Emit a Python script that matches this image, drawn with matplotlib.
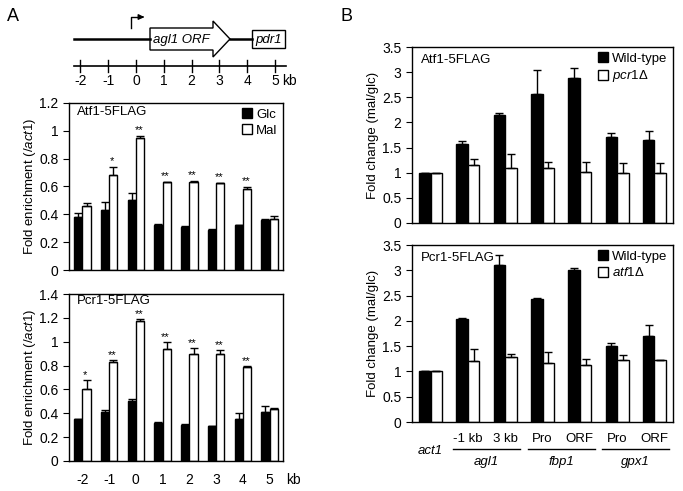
import numpy as np
import matplotlib
matplotlib.use('Agg')
import matplotlib.pyplot as plt
from matplotlib.patches import Polygon, Rectangle

plt.rcParams['font.family'] = ['Liberation Sans', 'DejaVu Sans']
plt.rcParams['mathtext.fontset'] = 'custom'
plt.rcParams['mathtext.rm'] = 'Liberation Sans'
plt.rcParams['mathtext.it'] = 'Liberation Sans:italic'
plt.rcParams['font.size'] = 9

# --- data, panel A ---
kb_pos = [-2, -1, 0, 1, 2, 3, 4, 5]
atf1_glc = [0.38, 0.43, 0.50, 0.32, 0.31, 0.29, 0.32, 0.36]
atf1_glc_err = [0.03, 0.06, 0.05, 0.01, 0.005, 0.005, 0.005, 0.01]
atf1_mal = [0.46, 0.68, 0.95, 0.63, 0.635, 0.625, 0.58, 0.37]
atf1_mal_err = [0.02, 0.06, 0.015, 0.005, 0.008, 0.003, 0.02, 0.015]
atf1_stars = ['', '*', '**', '**', '**', '**', '**', '']

pcr1_glc = [0.35, 0.41, 0.50, 0.32, 0.30, 0.29, 0.35, 0.41]
pcr1_glc_err = [0.005, 0.015, 0.02, 0.01, 0.01, 0.005, 0.05, 0.05]
pcr1_mal = [0.60, 0.83, 1.17, 0.94, 0.90, 0.90, 0.79, 0.44]
pcr1_mal_err = [0.08, 0.02, 0.02, 0.06, 0.05, 0.03, 0.005, 0.005]
pcr1_stars = ['*', '**', '**', '**', '**', '**', '**', '']

# --- data, panel B ---
b_top_labels = ['', '-1 kb', '3 kb', 'Pro', 'ORF', 'Pro', 'ORF']
b_genes = ['agl1', 'fbp1', 'gpx1']
atf1_wt = [1.0, 1.58, 2.15, 2.57, 2.88, 1.72, 1.66]
atf1_wt_err = [0, 0.06, 0.03, 0.47, 0.20, 0.06, 0.17]
atf1_mut = [1.0, 1.15, 1.10, 1.10, 1.02, 1.0, 1.0]
atf1_mut_err = [0, 0.13, 0.27, 0.12, 0.20, 0.20, 0.20]
pcr1_wt = [1.0, 2.03, 3.10, 2.43, 3.01, 1.51, 1.70]
pcr1_wt_err = [0, 0.03, 0.20, 0.03, 0.04, 0.05, 0.21]
pcr1_mut = [1.0, 1.20, 1.29, 1.17, 1.13, 1.22, 1.23]
pcr1_mut_err = [0, 0.25, 0.05, 0.21, 0.12, 0.10, 0]

W, H = 683, 491
fig = plt.figure(figsize=(W / 100, H / 100), dpi=100)


def px_axes(l, t, r, b):
    return fig.add_axes([l / W, 1 - b / H, (r - l) / W, (b - t) / H])


def bar_pair(ax, a, a_err, b, b_err, width, la, lb):
    x = np.arange(len(a))
    ekw = dict(ecolor='black', elinewidth=1, capsize=3, capthick=1)
    ax.bar(x - width / 2, a, width, color='black', edgecolor='black', lw=1,
           yerr=[np.zeros(len(a)), a_err], error_kw=ekw, label=la)
    ax.bar(x + width / 2, b, width, color='white', edgecolor='black', lw=1,
           yerr=[np.zeros(len(b)), b_err], error_kw=ekw, label=lb)
    ax.set_xlim(-0.5, len(a) - 0.5)
    ax.set_xticks([])
    ax.tick_params(axis='y', direction='out', length=4, labelsize=10)
    for s in ax.spines.values():
        s.set_linewidth(1)
    return x


def stars(ax, x, vals, errs, marks, width, off):
    for xi, v, e, m in zip(x, vals, errs, marks):
        if m:
            ax.text(xi + width / 2 - 0.05, v + e + off, m, ha='center', va='bottom', fontsize=8)


def legend(ax):
    ax.legend(loc='upper right', frameon=False, handlelength=0.8, handleheight=0.8,
              handletextpad=0.3, labelspacing=0.25, borderaxespad=0.3, borderpad=0.1,
              fontsize=9.5)


# ---------- panel A ----------
axA1 = px_axes(69, 103, 283, 270)
x = bar_pair(axA1, atf1_glc, atf1_glc_err, atf1_mal, atf1_mal_err, 0.31, 'Glc', 'Mal')
axA1.set_ylim(0, 1.2)
axA1.set_yticks(np.arange(0, 1.21, 0.2))
axA1.set_yticklabels(['0', '0.2', '0.4', '0.6', '0.8', '1', '1.2'])
stars(axA1, x, atf1_mal, atf1_mal_err, atf1_stars, 0.31, 0.005)
axA1.text(0.035, 0.985, 'Atf1-5FLAG', transform=axA1.transAxes, ha='left', va='top', fontsize=9.5)
legend(axA1)
axA1.set_ylabel(r'Fold enrichment (/$\mathit{act1}$)', fontsize=9.5, labelpad=1)

axA2 = px_axes(69, 294, 283, 461)
x = bar_pair(axA2, pcr1_glc, pcr1_glc_err, pcr1_mal, pcr1_mal_err, 0.31, 'Glc', 'Mal')
axA2.set_ylim(0, 1.4)
axA2.set_yticks(np.arange(0, 1.41, 0.2))
axA2.set_yticklabels(['0', '0.2', '0.4', '0.6', '0.8', '1', '1.2', '1.4'])
stars(axA2, x, pcr1_mal, pcr1_mal_err, pcr1_stars, 0.31, 0.0)
axA2.text(0.035, 0.995, 'Pcr1-5FLAG', transform=axA2.transAxes, ha='left', va='top', fontsize=9.5)
axA2.set_ylabel(r'Fold enrichment (/$\mathit{act1}$)', fontsize=9.5, labelpad=1)
tr = axA2.get_xaxis_transform()
for xi, k in zip(x, kb_pos):
    axA2.text(xi, -0.115, str(k), transform=tr, ha='center', va='center', fontsize=10)
axA2.text(7.9, -0.115, 'kb', transform=tr, ha='center', va='center', fontsize=10)

# ---------- panel B ----------
axB1 = px_axes(412, 47, 673, 223)
x = bar_pair(axB1, atf1_wt, atf1_wt_err, atf1_mut, atf1_mut_err, 0.31,
             'Wild-type', r'$\mathit{pcr1}\Delta$')
axB1.set_ylim(0, 3.5)
axB1.set_yticks(np.arange(0, 3.51, 0.5))
axB1.set_yticklabels(['0', '0.5', '1', '1.5', '2', '2.5', '3', '3.5'])
axB1.text(0.035, 0.96, 'Atf1-5FLAG', transform=axB1.transAxes, ha='left', va='top', fontsize=9.5)
legend(axB1)
axB1.set_ylabel('Fold change (mal/glc)', fontsize=9.5, labelpad=2)

axB2 = px_axes(412, 245, 673, 422)
x = bar_pair(axB2, pcr1_wt, pcr1_wt_err, pcr1_mut, pcr1_mut_err, 0.31,
             'Wild-type', r'$\mathit{atf1}\Delta$')
axB2.set_ylim(0, 3.5)
axB2.set_yticks(np.arange(0, 3.51, 0.5))
axB2.set_yticklabels(['0', '0.5', '1', '1.5', '2', '2.5', '3', '3.5'])
axB2.text(0.035, 0.96, 'Pcr1-5FLAG', transform=axB2.transAxes, ha='left', va='top', fontsize=9.5)
legend(axB2)
axB2.set_ylabel('Fold change (mal/glc)', fontsize=9.5, labelpad=2)

tr = axB2.get_xaxis_transform()
for xi, lab in zip(x, b_top_labels):
    if lab:
        axB2.text(xi, -0.096, lab, transform=tr, ha='center', va='center', fontsize=9.5)
axB2.text(x[0], -0.164, 'act1', transform=tr, ha='center', va='center',
          fontsize=9.5, style='italic')
for gi, g in enumerate(b_genes):
    x0, x1 = x[1 + 2 * gi], x[2 + 2 * gi]
    axB2.plot([x0 - 0.4, x1 + 0.4], [-0.153, -0.153], transform=tr, color='black',
              lw=1, clip_on=False)
    axB2.text((x0 + x1) / 2, -0.226, g, transform=tr, ha='center', va='center',
              fontsize=9.5, style='italic')

# ---------- gene diagram ----------
dax = fig.add_axes([0, 0, 1, 1])
dax.set_xlim(0, W)
dax.set_ylim(H, 0)
dax.axis('off')


def kb_px(k):
    return 136 + k * 27.8


dax.plot([74, 150], [39, 39], color='black', lw=1.8)
dax.plot([230, 252], [39, 39], color='black', lw=1.8)
dax.add_patch(Polygon([(150, 28), (213, 28), (213, 21), (230, 39), (213, 57), (213, 50), (150, 50)],
                      closed=True, facecolor='white', edgecolor='black', lw=1))
dax.text(181, 39.5, 'agl1 ORF', ha='center', va='center', fontsize=9.5, style='italic')
dax.add_patch(Rectangle((252, 30), 33, 18, facecolor='white', edgecolor='black', lw=1))
dax.text(268.5, 39.5, 'pdr1', ha='center', va='center', fontsize=9.5, style='italic')
dax.plot([131, 131, 141], [28, 17, 17], color='black', lw=1)
dax.annotate('', xy=(147, 17), xytext=(139, 17),
             arrowprops=dict(arrowstyle='-|>', color='black', lw=1, mutation_scale=8))

dax.plot([74, 286], [66, 66], color='black', lw=1.2)
for k in kb_pos:
    dax.plot([kb_px(k), kb_px(k)], [60, 72], color='black', lw=1)
    dax.text(kb_px(k), 81, str(k), ha='center', va='center', fontsize=10)
dax.text(289, 81, 'kb', ha='center', va='center', fontsize=10)

dax.text(13, 16, 'A', ha='center', va='center', fontsize=13)
dax.text(347, 16, 'B', ha='center', va='center', fontsize=13)

fig.savefig('out.png', dpi=100)
